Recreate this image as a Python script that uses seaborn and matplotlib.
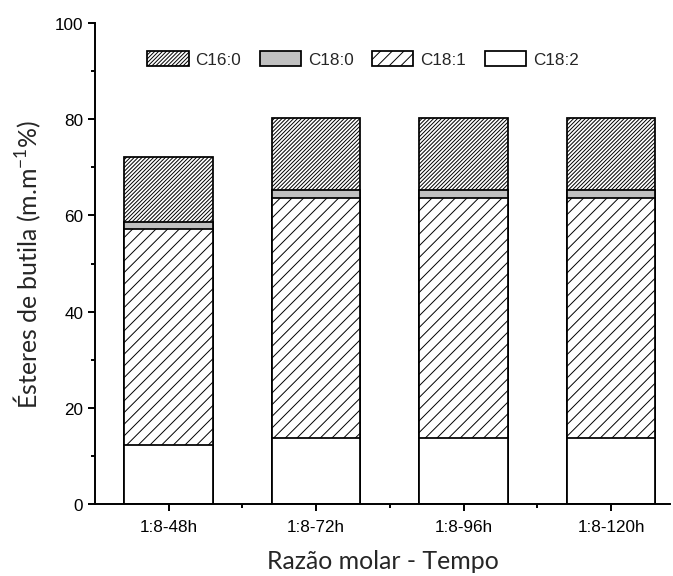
import matplotlib
matplotlib.use("Agg")
import matplotlib.pyplot as plt
import seaborn as sns
import numpy as np
import pandas as pd
from matplotlib.patches import Patch
from matplotlib.ticker import MultipleLocator, FixedLocator

categories = ["1:8-48h", "1:8-72h", "1:8-96h", "1:8-120h"]
c18_2 = [12.3, 13.7, 13.7, 13.7]
c18_1 = [44.9, 49.9, 49.9, 49.9]
c18_0 = [1.5, 1.7, 1.7, 1.7]
c16_0 = [13.5, 14.9, 14.9, 14.9]
series_names = ["C18:2", "C18:1", "C18:0", "C16:0"]
legend_order = ["C16:0", "C18:0", "C18:1", "C18:2"]

sns.set_theme(style="ticks")
DPI = 140
plt.rcParams["hatch.linewidth"] = 0.5
plt.rcParams["font.family"] = ["Liberation Sans", "DejaVu Sans"]
plt.rcParams["mathtext.fontset"] = "custom"
plt.rcParams["mathtext.rm"] = "Lato"
plt.rcParams["mathtext.it"] = "Lato"

fig = plt.figure(figsize=(673 / DPI, 577 / DPI), dpi=DPI)
ax = fig.add_axes([95 / 673, 1 - 505 / 577, (670 - 95) / 673, (505 - 24) / 577])

styles = {
    "C18:2": dict(color="white", hatch=None),
    "C18:1": dict(color="white", hatch="////"),
    "C18:0": dict(color="#c0c0c0", hatch=None),
    "C16:0": dict(color="white", hatch="////////////"),
}

vals = {"C18:2": c18_2, "C18:1": c18_1, "C18:0": c18_0, "C16:0": c16_0}
cum = np.zeros(len(categories))
cums = {}
for name in series_names:
    cum = cum + np.array(vals[name])
    cums[name] = cum.copy()

# draw from tallest cumulative to smallest so lower segments overlay
for name in reversed(series_names):
    df = pd.DataFrame({"cat": categories, "val": cums[name]})
    sns.barplot(data=df, x="cat", y="val", order=categories, color=styles[name]["color"],
                saturation=1, hatch=styles[name]["hatch"], edgecolor="black",
                linewidth=0.9, width=0.6, ax=ax)

ax.set_xlim(-0.5, 3.40)
ax.set_ylim(0, 100)
ax.yaxis.set_major_locator(MultipleLocator(20))
ax.yaxis.set_minor_locator(MultipleLocator(10))
ax.xaxis.set_minor_locator(FixedLocator([0.5, 1.5, 2.5]))
for s in ["top", "right"]:
    ax.spines[s].set_visible(False)
for s in ["left", "bottom"]:
    ax.spines[s].set_linewidth(1.0)
    ax.spines[s].set_color("black")
ax.tick_params(axis="both", which="major", direction="out", length=3.6, width=1.0,
               labelsize=8.8, colors="black", pad=2.5)
ax.tick_params(axis="both", which="minor", direction="out", length=2.2, width=1.0, colors="black")
ax.tick_params(axis="x", which="major", pad=4)

ax.set_xlabel("Razão molar - Tempo", fontfamily="Lato", fontsize=12.8, labelpad=8)
ax.set_ylabel("Ésteres de butila (m.m$^{-1}$%)", fontfamily="Lato", fontsize=12.8, labelpad=6)

handles = [Patch(facecolor=styles[n]["color"], hatch=styles[n]["hatch"], edgecolor="black",
                 linewidth=0.9, label=n) for n in legend_order]
ax.legend(handles=handles, loc="center", bbox_to_anchor=((363 - 95) / 575, 1 - (60 - 24) / (505 - 24)),
          ncol=4, frameon=False, fontsize=8.8, handlelength=2.4, handleheight=0.95,
          handletextpad=0.4, columnspacing=1.1, borderaxespad=0)

fig.savefig("out.png", dpi=DPI)
